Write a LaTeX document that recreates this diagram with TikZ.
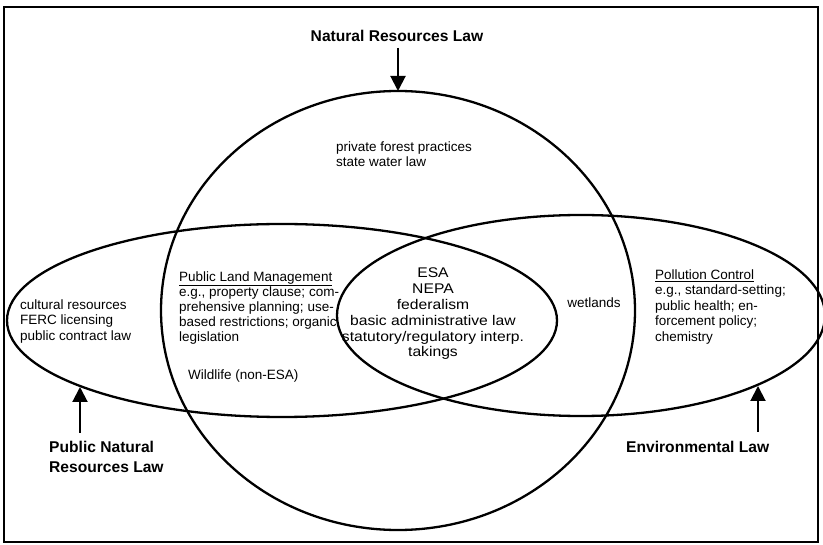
\documentclass[tikz,border=0pt]{standalone}
\usepackage{fontspec}
\setmainfont{Liberation Sans}
\newfontfamily\widefont[FakeStretch=1.12]{Liberation Sans}
\usetikzlibrary{arrows.meta,shapes.geometric}
\begin{document}
\begin{tikzpicture}[x=1pt,y=-1pt,
  lawset/.style={draw, ellipse, line width=2.3pt, inner sep=0pt, outer sep=0pt},
  body/.style={inner sep=0pt, align=left, anchor=north west, font=\fontsize{13.5}{15.5}\selectfont},
  title/.style={inner sep=0pt, align=left, font=\fontsize{15.6}{20}\selectfont\bfseries},
  pointer/.style={line width=2pt, -{Triangle[length=15pt,width=15pt]}}]
\useasboundingbox (0,0) rectangle (823,545);
\draw[line width=1.6pt] (4,7) rectangle (818,542);
% the three fields
\node[lawset, minimum width=474pt, minimum height=439pt] (nrl) at (398,310.5) {};
\node[lawset, minimum width=550pt, minimum height=193pt] (pnrl) at (282,320.5) {};
\node[lawset, minimum width=488pt, minimum height=201pt] (env) at (581,315.5) {};
% titles
\node[title, anchor=base] (tnrl) at (397,41.5) {Natural Resources Law};
\node[title, anchor=north west] (tpnrl) at (49,441.3) {Public Natural\\Resources Law};
\node[title, anchor=north west] (tenv) at (626,441.3) {Environmental Law};
% pointers
\coordinate (nrl-tail) at (398,48);
\draw[pointer] (nrl-tail) -- (nrl.north);
\coordinate (pnrl-tail) at (80,433);
\coordinate (pnrl-tip) at (80,387);
\draw[pointer] (pnrl-tail) -- (pnrl-tip);
\coordinate (env-tail) at (758,432);
\coordinate (env-tip) at (758,386);
\draw[pointer] (env-tail) -- (env-tip);
% contents
\node[body] (priv) at (336,141.5) {private forest practices\\state water law};
\node[body, font=\fontsize{13.5}{15}\selectfont] (plm) at (179,271.5) {\underline{Public Land Management}\\e.g., property clause; com-\\prehensive planning; use-\\based restrictions; organic\\legislation};
\node[body] (wild) at (188,369.5) {Wildlife (non-ESA)};
\node[body] (cult) at (20,299.5) {cultural resources\\FERC licensing\\public contract law};
\node[body, align=center, anchor=north, font=\widefont\fontsize{14}{15.8}\selectfont] (core) at (433,268) {ESA\\NEPA\\federalism\\basic administrative law\\statutory/regulatory interp.\\takings};
\node[body, anchor=north] (wet) at (594,297.5) {wetlands};
\node[body] (poll) at (655,269.5) {\underline{Pollution Control}\\e.g., standard-setting;\\public health; en-\\forcement policy;\\chemistry};
\end{tikzpicture}
\end{document}
